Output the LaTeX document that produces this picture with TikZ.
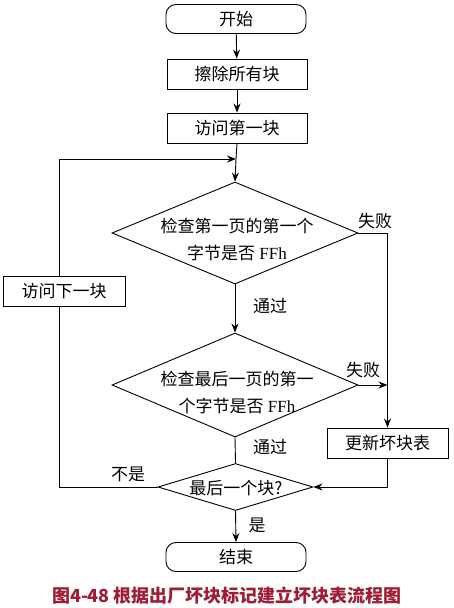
\documentclass[tikz,border=0pt]{standalone}
\usepackage{fontspec}
\setmainfont{Liberation Serif}
\newfontfamily\cjk{Noto Sans CJK SC}
\usetikzlibrary{shapes.geometric,arrows.meta}
\definecolor{capred}{RGB}{158,28,52}
\begin{document}
\begin{tikzpicture}[x=1pt,y=-1pt,
  every node/.style={font=\fontsize{17}{27}\selectfont, inner sep=0pt},
  term/.style={draw, rounded corners=10pt, minimum width=140pt, minimum height=29pt},
  proc/.style={draw, minimum height=30pt},
  dia/.style={draw, diamond},
  lbl/.style={font=\cjk\fontsize{17}{20}\selectfont},
  conn/.style={line width=0.9pt},
  arr/.style={conn, -{Stealth[length=9pt,width=7pt,inset=3pt]}}
]
\useasboundingbox (0,0) rectangle (453,608);

\node[term, line width=0.9pt] (start) at (236,19) {\cjk 开始};
\node[proc, line width=0.9pt, minimum width=140pt] (erase) at (237,74) {\cjk 擦除所有块};
\node[proc, line width=0.9pt, minimum width=140pt] (first) at (237,128) {\cjk 访问第一块};
\coordinate (j1) at (236,159);

\node[dia, line width=0.9pt, minimum width=246pt, minimum height=102pt] (d1) at (235,233) {};
\node[align=center] (t1) at (237,239) {\cjk 检查第一页的第一个\\{\cjk 字节是否} FFh};

\node[dia, line width=0.9pt, minimum width=246pt, minimum height=104pt] (d2) at (235,385) {};
\node[align=center] (t2) at (237,392) {\cjk 检查最后一页的第一\\{\cjk 个字节是否} FFh};

\node[dia, line width=0.9pt, minimum width=155pt, minimum height=47pt] (d3) at (235.5,487) {};
\node (t3) at (236,488) {\cjk 最后一个块?};

\node[proc, line width=0.9pt, minimum width=121pt] (upd) at (387.5,443) {\cjk 更新坏块表};
\node[proc, line width=0.9pt, minimum width=122pt] (nb) at (64,291.5) {\cjk 访问下一块};
\coordinate (lx) at (59,487);

\node[term, line width=0.9pt] (end) at (236,557) {\cjk 结束};

\node[font=\cjk\bfseries\fontsize{18}{22}\selectfont, text=capred] (cap) at (227,596) {图4-48 根据出厂坏块标记建立坏块表流程图};

% labels
\node[lbl] (f1) at (375,221) {失败};
\node[lbl] (f2) at (363,370) {失败};
\node[lbl] (p1) at (270,306) {通过};
\node[lbl] (p2) at (270,447) {通过};
\node[lbl] (n1) at (128,474) {不是};
\node[lbl] (y1) at (257,525) {是};

% connectors
\draw[arr] (start) -- (erase);
\draw[arr] (erase) -- (first);
\draw[conn] (first.south) -- (j1);
\draw[arr] (j1) -- (d1.north);
\draw[arr] (d1.south) -- (d2.north);
\draw[conn] (d2.south) -- (d3.north);
\draw[arr] (d3.south) -- (end.north);
\draw[arr] (d1.east) -| (upd.north);
\draw[arr] (d2.east) -- (d2.east -| upd.north);
\draw[arr] (upd.south) |- (d3.east);
\draw[conn] (d3.west) -- (lx) -- (nb.south -| lx);
\draw[arr] (nb.north -| lx) |- (j1);
\end{tikzpicture}
\end{document}
